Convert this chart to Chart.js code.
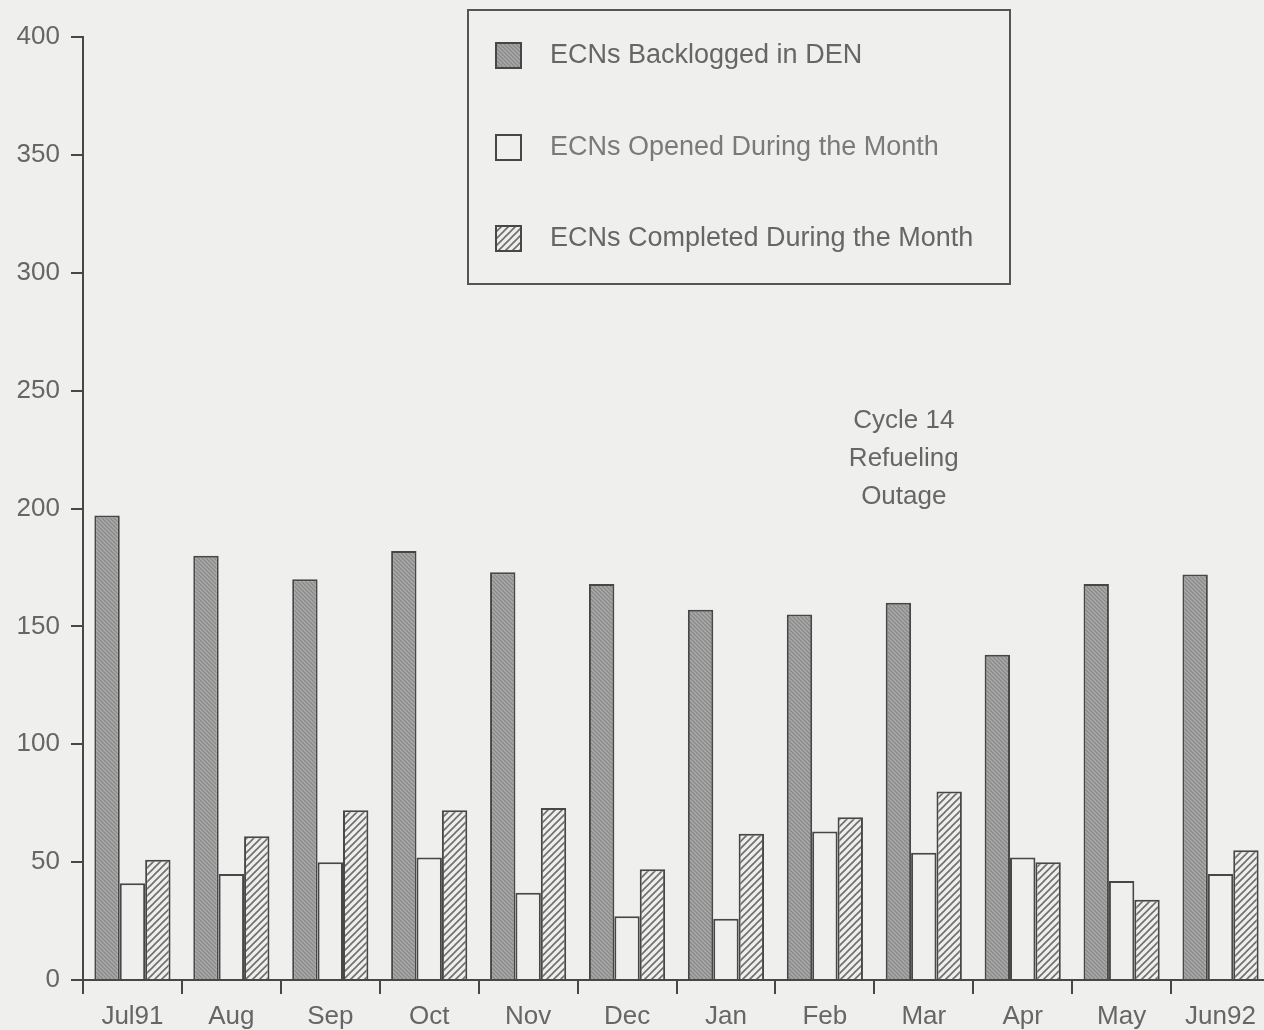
<!DOCTYPE html>
<html>
<head>
<meta charset="utf-8">
<script src="https://cdn.jsdelivr.net/npm/chart.js@4/dist/chart.umd.min.js"></script>
<style>
  html, body { margin: 0; padding: 0; background: #efefed; overflow: hidden; }
  #wrap { width: 1280px; height: 1030px; }
</style>
</head>
<body>
<div id="wrap"><canvas id="myChart"></canvas></div>
<script>
// months on the x axis
var months = ['Jul91', 'Aug', 'Sep', 'Oct', 'Nov', 'Dec', 'Jan', 'Feb', 'Mar', 'Apr', 'May', 'Jun92'];
// ECN counts
var backlogged = [197, 180, 170, 182, 173, 168, 157, 155, 160, 138, 168, 172];
var opened = [41, 45, 50, 52, 37, 27, 26, 63, 54, 52, 42, 45];
var completed = [51, 61, 72, 72, 73, 47, 62, 69, 80, 50, 34, 55];
var seriesNames = ['ECNs Backlogged in DEN', 'ECNs Opened During the Month', 'ECNs Completed During the Month'];
var noteLines = ['Cycle 14', 'Refueling', 'Outage'];

var FONT = '"Liberation Sans", Arial, sans-serif';
var INK = '#474747';
var TEXT = '#666666';

// hatch fills, like the old print
function hatch(bg, fg, step, width, dir) {
  var c = document.createElement('canvas');
  c.width = step; c.height = step;
  var g = c.getContext('2d');
  g.fillStyle = bg;
  g.fillRect(0, 0, step, step);
  g.strokeStyle = fg;
  g.lineWidth = width;
  g.beginPath();
  if (dir > 0) { // "/"
    g.moveTo(-1, step + 1); g.lineTo(step + 1, -1);
    g.moveTo(-1, 1); g.lineTo(1, -1);
    g.moveTo(step - 1, step + 1); g.lineTo(step + 1, step - 1);
  } else { // "\"
    g.moveTo(-1, -1); g.lineTo(step + 1, step + 1);
    g.moveTo(step - 1, -1); g.lineTo(step + 1, 1);
    g.moveTo(-1, step - 1); g.lineTo(1, step + 1);
  }
  g.stroke();
  return g.createPattern(c, 'repeat');
}
var darkFill = hatch('#a8a8a8', '#868686', 4, 1.2, -1);
var hatchFill = hatch('#eeeeec', '#6f6f6f', 7, 1.6, 1);

// legend box drawn inside the plot
var boxLegend = {
  id: 'boxLegend',
  afterDatasetsDraw: function(chart, args, opts) {
    var ctx = chart.ctx;
    ctx.save();
    ctx.strokeStyle = '#555555';
    ctx.lineWidth = 2;
    ctx.strokeRect(opts.x, opts.y, opts.w, opts.h);
    ctx.font = '27px ' + FONT;
    ctx.textBaseline = 'middle';
    ctx.textAlign = 'left';
    chart.data.datasets.forEach(function(ds, i) {
      var cy = opts.rows[i];
      ctx.fillStyle = ds.backgroundColor;
      ctx.fillRect(opts.mx, cy - 12, 25, 25);
      ctx.strokeStyle = INK;
      ctx.lineWidth = 2;
      ctx.strokeRect(opts.mx, cy - 12, 25, 25);
      ctx.fillStyle = i == 1 ? '#7a7a7a' : TEXT;
      ctx.fillText(ds.label, opts.tx, cy + 1);
    });
    ctx.restore();
  }
};

// outage note
var outageNote = {
  id: 'outageNote',
  afterDatasetsDraw: function(chart, args, opts) {
    var ctx = chart.ctx;
    var x = chart.scales.x.getPixelForValue(8) - 20;
    var y = chart.scales.y.getPixelForValue(221);
    ctx.save();
    ctx.font = '26px ' + FONT;
    ctx.fillStyle = TEXT;
    ctx.textAlign = 'center';
    ctx.textBaseline = 'middle';
    noteLines.forEach(function(t, i) {
      ctx.fillText(t, x, y + (i - 1) * 38);
    });
    ctx.restore();
  }
};

var ctx = document.getElementById('myChart').getContext('2d');
var myChart = new Chart(ctx, {
  type: 'bar',
  data: {
    labels: months,
    datasets: [{
      label: seriesNames[0],
      data: backlogged,
      backgroundColor: darkFill,
      borderColor: INK,
      borderWidth: 2
    },
    {
      label: seriesNames[1],
      data: opened,
      backgroundColor: '#efefed',
      borderColor: INK,
      borderWidth: 2
    },
    {
      label: seriesNames[2],
      data: completed,
      backgroundColor: hatchFill,
      borderColor: INK,
      borderWidth: 2
    }]
  },
  plugins: [boxLegend, outageNote],
  options: {
    responsive: true,
    maintainAspectRatio: false,
    animation: false,
    layout: { padding: { top: 37, right: 10, left: 0, bottom: 0 } },
    datasets: {
      bar: { categoryPercentage: 0.77, barPercentage: 1.0 }
    },
    scales: {
      x: {
        offset: true,
        grid: { offset: true, drawOnChartArea: false, drawTicks: true, tickLength: 14, color: INK, lineWidth: 2 },
        border: { color: INK, width: 2 },
        ticks: { color: TEXT, font: { family: FONT, size: 26 }, padding: 7, maxRotation: 0 },
        afterFit: function(s) { s.height = 50; }
      },
      y: {
        min: 0,
        max: 400,
        grid: { drawOnChartArea: false, drawTicks: true, tickLength: 12, color: INK, lineWidth: 2 },
        border: { color: INK, width: 2 },
        ticks: { stepSize: 50, color: TEXT, font: { family: FONT, size: 26 }, padding: 11 },
        afterFit: function(s) { s.width = 83; }
      }
    },
    plugins: {
      legend: { display: false },
      tooltip: { enabled: false },
      boxLegend: { x: 468, y: 10, w: 542, h: 274, mx: 496, tx: 550, rows: [55, 147, 238] }
    }
  }
});
</script>
</body>
</html>
